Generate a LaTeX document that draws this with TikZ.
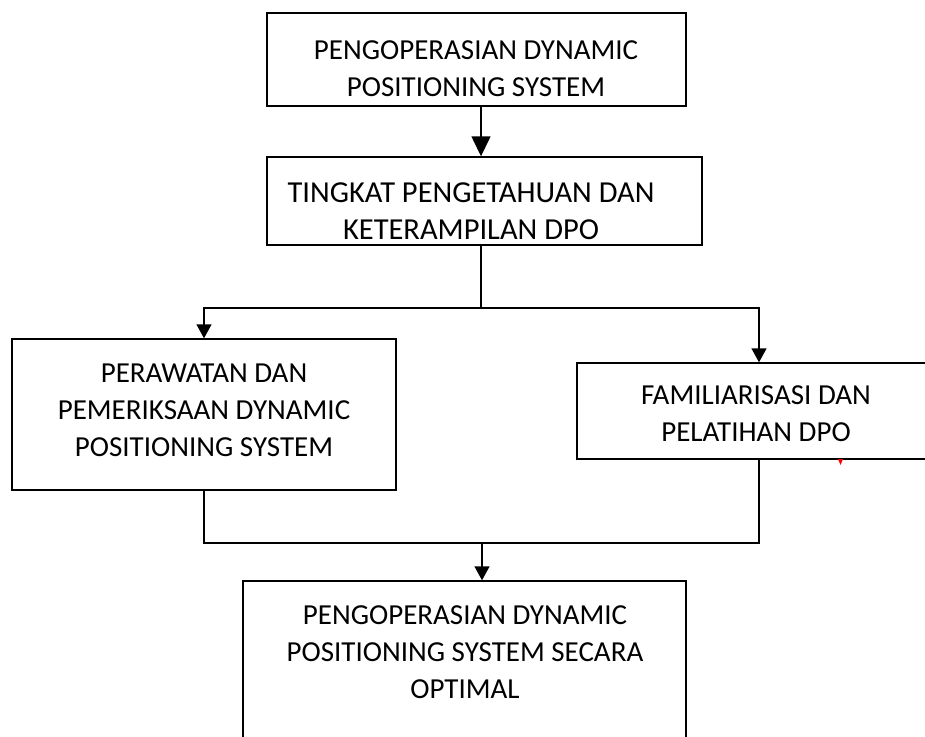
\documentclass[tikz,border=0pt]{standalone}
\usepackage{fontspec}
\setmainfont{Carlito}
\usetikzlibrary{arrows.meta, calc}
\tikzstyle{box}=[draw, line width=1.4pt, inner sep=0pt]
\tikzstyle{txt}=[align=center, inner sep=0pt, font=\fontsize{29}{37}\selectfont]
\tikzstyle{arr}=[line width=1.4pt, -{Triangle[width=15pt,length=14pt]}]
\tikzstyle{ln}=[line width=1.4pt]

\begin{document}
\begin{tikzpicture}[x=1pt, y=-1pt]
	\useasboundingbox (0,0) rectangle (925,736);
	\clip (0,0) rectangle (925,736);
	\node[box, minimum width=419pt, minimum height=93pt](b1) at (476.5,59.5) {};
	\node[box, minimum width=435pt, minimum height=88pt](b2) at (484.5,201) {};
	\node[box, minimum width=384pt, minimum height=151pt](b3) at (204,414.5) {};
	\node[box, minimum width=364pt, minimum height=96pt](b4) at (759,411) {};
	\node[box, minimum width=443pt, minimum height=199pt](b5) at (464.5,680.5) {};
	\node[txt](t1) at (476,68.5) {PENGOPERASIAN DYNAMIC\\POSITIONING SYSTEM};
	\node[txt, font=\fontsize{30.5}{37}\selectfont](t2) at (471,211.5) {TINGKAT PENGETAHUAN DAN\\KETERAMPILAN DPO};
	\node[txt](t3) at (204,410) {PERAWATAN DAN\\PEMERIKSAAN DYNAMIC\\POSITIONING SYSTEM};
	\node[txt](t4) at (756,413.5) {FAMILIARISASI DAN\\PELATIHAN DPO};
	\node[txt](t5) at (465,652) {PENGOPERASIAN DYNAMIC\\POSITIONING SYSTEM SECARA\\OPTIMAL};
	\coordinate (j1) at (481,308);
	\coordinate (j2) at (482,543);
	\draw[line width=1.4pt, -{Triangle[width=19pt,length=20pt]}] (b1.south -| j1) -- (b2.north -| j1);
	\draw[ln] (b2.south -| j1) -- (j1);
	\draw[arr] (j1) -| (b3.north);
	\draw[arr] (j1) -| (b4.north);
	\draw[ln] (b3.south) |- (j2) -| (b4.south);
	\draw[arr] (j2) -- (b5.north -| j2);
	\fill[red] (838,459) -- (843,459) -- (840.5,465) -- cycle;
\end{tikzpicture}
\end{document}
